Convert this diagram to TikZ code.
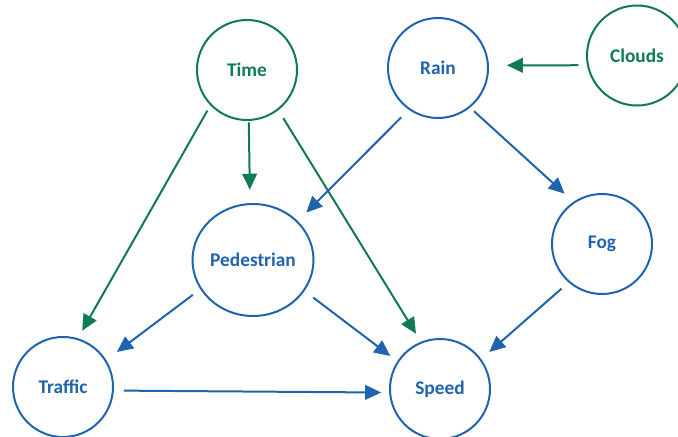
\documentclass[tikz,border=0pt]{standalone}
\usepackage{fontspec}
\setmainfont{Carlito}
\usetikzlibrary{arrows.meta,shapes.geometric}
\definecolor{dgreen}{HTML}{0F7B52}
\definecolor{dblue}{HTML}{1F64AE}
\tikzset{
  circ/.style={circle,draw,line width=1.5pt,minimum size=75pt,inner sep=0pt,font=\fontsize{14.5pt}{16pt}\selectfont\bfseries},
  gnode/.style={circ,draw=dgreen,text=dgreen},
  bnode/.style={circ,draw=dblue,text=dblue},
  arr/.style={line width=1.5pt,-{Triangle[length=12pt,width=11pt]}},
  garr/.style={arr,draw=dgreen,fill=dgreen},
  barr/.style={arr,draw=dblue,fill=dblue}
}
\begin{document}
\begin{tikzpicture}[x=0.75pt,y=-0.75pt]
\useasboundingbox[fill=white] (0,0) rectangle (678,436);
\node[gnode] (time) at (247,70) {Time};
\node[bnode] (rain) at (438,68) {Rain};
\node[gnode] (clouds) at (637,55.5) {Clouds};
\node[bnode,ellipse,minimum width=90pt,minimum height=84pt] (ped) at (253,260) {Pedestrian};
\node[bnode] (fog) at (602,244) {Fog};
\node[bnode] (traffic) at (63,387) {Traffic};
\node[bnode] (speed) at (440,389) {Speed};
\draw[garr,shorten <=1pt,shorten >=10pt] (time.-88) -- (ped.93);
\draw[garr,shorten <=4.5pt,shorten >=6.5pt] (time.-136) -- (traffic.73);
\draw[garr,shorten <=7pt,shorten >=7pt] (time.-52.5) -- (speed.112.7);
\draw[barr,shorten <=8pt,shorten >=9pt] (rain.-125.5) -- (ped.41);
\draw[barr,shorten <=4pt,shorten >=9pt] (rain.-51) -- (fog.124.5);
\draw[garr,shorten <=6.5pt,shorten >=13.5pt] (clouds.191.4) -- (rain.3.4);
\draw[barr,shorten <=7pt,shorten >=10pt] (ped.-151) -- (traffic.32.7);
\draw[barr,shorten <=8pt,shorten >=6.5pt] (ped.-31) -- (speed.147);
\draw[barr,shorten <=7.5pt,shorten >=6pt] (traffic.-4.8) -- (speed.-176);
\draw[barr,shorten <=7pt,shorten >=8pt] (fog.-131) -- (speed.36.3);
\end{tikzpicture}
\end{document}
